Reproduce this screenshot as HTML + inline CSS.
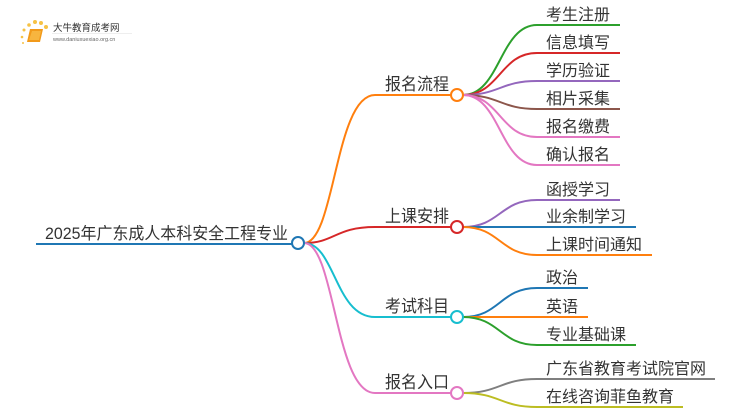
<!DOCTYPE html>
<html><head><meta charset="utf-8"><style>
html,body{margin:0;padding:0;background:#fff;width:750px;height:410px;overflow:hidden}
text{font-family:"Liberation Sans","Noto Sans CJK SC",sans-serif;fill:#333}
</style></head><body>
<svg width="750" height="410" viewBox="0 0 750 410" xmlns="http://www.w3.org/2000/svg">
<g>
<circle cx="24" cy="30" r="1.5" fill="#f6c244"/><circle cx="29" cy="25" r="1.8" fill="#f6c244"/><circle cx="35" cy="22" r="2" fill="#f6c244"/><circle cx="41" cy="23" r="2" fill="#f6c244"/><circle cx="46" cy="27" r="2" fill="#f6c244"/><circle cx="22" cy="37" r="1.3" fill="#f6c244"/><circle cx="23" cy="43" r="1" fill="#f6c244"/>
<path d="M30 29 L43 29 L40 42 L27 42 Z" fill="#f29a1a"/>
<path d="M32 31 L41 31 L39 40 L29 40 Z" fill="#f7b53f"/>
<text x="53" y="31" font-size="9.5" style="fill:#333">大牛教育成考网</text>
<line x1="52" y1="33.5" x2="132" y2="33.5" stroke="#ddd" stroke-width="0.6"/>
<text x="53" y="41" font-size="5.5" style="fill:#666">www.daniuxuexiao.org.cn</text>
</g>
<g fill="none" stroke-width="2">
<line x1="36" y1="244" x2="292" y2="244" stroke="#1f77b4"/>
<path d="M304 243 C335 243,335 95,375 95 L451 95" stroke="#ff7f0e"/>
<path d="M304 243 C335 243,335 227,375 227 L451 227" stroke="#d62728"/>
<path d="M304 243 C335 243,335 317,375 317 L451 317" stroke="#17becf"/>
<path d="M304 243 C335 243,335 393,375 393 L451 393" stroke="#e377c2"/>
<path d="M463 95 C500 95,500 25,537 25 L620 25" stroke="#2ca02c"/>
<path d="M463 95 C500 95,500 53,537 53 L620 53" stroke="#d62728"/>
<path d="M463 95 C500 95,500 81,537 81 L620 81" stroke="#9467bd"/>
<path d="M463 95 C500 95,500 109,537 109 L620 109" stroke="#8c564b"/>
<path d="M463 95 C500 95,500 137,537 137 L620 137" stroke="#e377c2"/>
<path d="M463 95 C500 95,500 165,537 165 L620 165" stroke="#e377c2"/>
<path d="M463 227 C500 227,500 200,537 200 L620 200" stroke="#9467bd"/>
<path d="M463 227 L636 227" stroke="#1f77b4"/>
<path d="M463 227 C500 227,500 255,537 255 L652 255" stroke="#ff7f0e"/>
<path d="M463 317 C500 317,500 288,537 288 L588 288" stroke="#1f77b4"/>
<path d="M463 317 L588 317" stroke="#ff7f0e"/>
<path d="M463 317 C500 317,500 345,537 345 L636 345" stroke="#2ca02c"/>
<path d="M463 393 C500 393,500 379,537 379 L715 379" stroke="#7f7f7f"/>
<path d="M463 393 C500 393,500 407,537 407 L683 407" stroke="#bcbd22"/>
<circle cx="298" cy="243" r="6" fill="#fff" stroke="#1f77b4"/>
<circle cx="457" cy="95" r="6" fill="#fff" stroke="#ff7f0e"/>
<circle cx="457" cy="227" r="6" fill="#fff" stroke="#d62728"/>
<circle cx="457" cy="317" r="6" fill="#fff" stroke="#17becf"/>
<circle cx="457" cy="393" r="6" fill="#fff" stroke="#e377c2"/>
</g>
<g font-size="17">
<text x="45" y="239" font-size="16.5" textLength="243" lengthAdjust="spacingAndGlyphs">2025年广东成人本科安全工程专业</text>
<text x="385" y="90" textLength="64" lengthAdjust="spacingAndGlyphs">报名流程</text>
<text x="385" y="222" textLength="64" lengthAdjust="spacingAndGlyphs">上课安排</text>
<text x="385" y="312" textLength="64" lengthAdjust="spacingAndGlyphs">考试科目</text>
<text x="385" y="388" textLength="64" lengthAdjust="spacingAndGlyphs">报名入口</text>
</g>
<g font-size="16">
<text x="546" y="20">考生注册</text>
<text x="546" y="48">信息填写</text>
<text x="546" y="76">学历验证</text>
<text x="546" y="104">相片采集</text>
<text x="546" y="132">报名缴费</text>
<text x="546" y="160">确认报名</text>
<text x="546" y="195">函授学习</text>
<text x="546" y="222">业余制学习</text>
<text x="546" y="250">上课时间通知</text>
<text x="546" y="283">政治</text>
<text x="546" y="312">英语</text>
<text x="546" y="340">专业基础课</text>
<text x="546" y="374">广东省教育考试院官网</text>
<text x="546" y="402">在线咨询菲鱼教育</text>
</g>
</svg>
</body></html>
